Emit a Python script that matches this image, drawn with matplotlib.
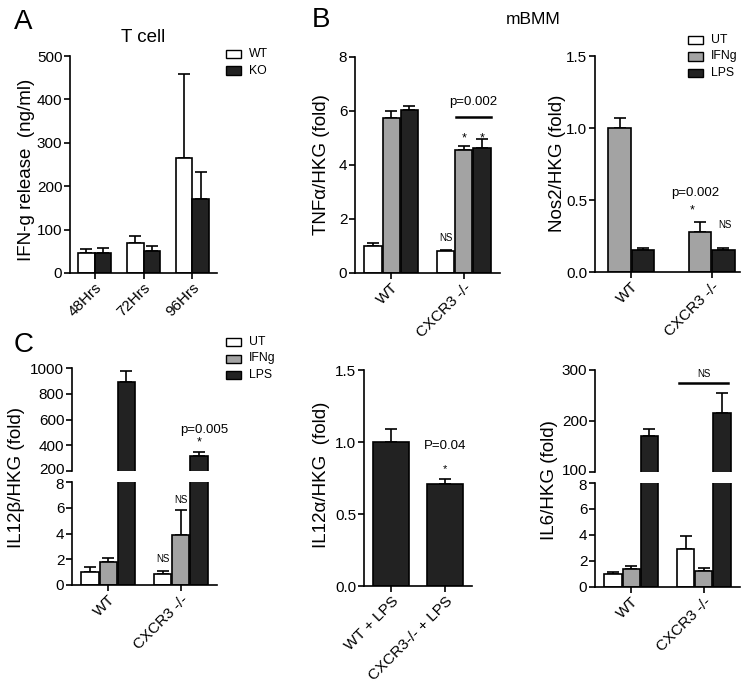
import matplotlib
matplotlib.use("Agg")
import matplotlib.pyplot as plt
from matplotlib.patches import Rectangle
from matplotlib.transforms import ScaledTranslation
import numpy as np

plt.rcParams['font.family'] = ['Liberation Sans', 'DejaVu Sans']

# ---------------- data ----------------
# Panel A: T cell IFN-g release
a_times = ["48Hrs", "72Hrs", "96Hrs"]
a_wt = [46, 68, 264]
a_wt_err = [9, 17, 194]
a_ko = [47, 51, 170]
a_ko_err = [10, 11, 62]

genotypes = ["WT", "CXCR3 -/-"]

# Panel B1: TNFa/HKG
tnf_ut = [1.0, 0.80]
tnf_ut_err = [0.10, 0.06]
tnf_ifng = [5.75, 4.55]
tnf_ifng_err = [0.25, 0.15]
tnf_lps = [6.02, 4.62]
tnf_lps_err = [0.15, 0.33]

# Panel B2: Nos2/HKG
nos_ifng = [1.0, 0.28]
nos_ifng_err = [0.07, 0.065]
nos_lps = [0.15, 0.155]
nos_lps_err = [0.015, 0.010]

# Panel C1: IL12b/HKG
il12b_ut = [1.0, 0.85]
il12b_ut_err = [0.40, 0.20]
il12b_ifng = [1.75, 3.9]
il12b_ifng_err = [0.35, 1.95]
il12b_lps = [888, 315]
il12b_lps_err = [90, 34]

# Panel C2: IL12a/HKG
il12a_labels = ["WT + LPS", "CXCR3-/- + LPS"]
il12a_vals = [1.0, 0.71]
il12a_err = [0.09, 0.035]

# Panel C3: IL6/HKG
il6_ut = [1.0, 2.9]
il6_ut_err = [0.15, 1.0]
il6_ifng = [1.35, 1.25]
il6_ifng_err = [0.25, 0.25]
il6_lps = [170, 215]
il6_lps_err = [15, 40]

# ---------------- style ----------------
W, H = 751, 688
WHITE = "#ffffff"
GRAY = "#a3a3a3"
DARK = "#222222"
LW = 1.2
TICKFS = 11
LABFS = 13.5

fig = plt.figure(figsize=(W / 100, H / 100), dpi=100)


def px_axes(x0, y0, x1, y1):
    return fig.add_axes([x0 / W, 1 - y1 / H, (x1 - x0) / W, (y1 - y0) / H])


def style(ax, bottom=True):
    for s in ["top", "right"]:
        ax.spines[s].set_visible(False)
    for s in ["left", "bottom"]:
        ax.spines[s].set_linewidth(LW)
    ax.tick_params(direction="out", length=4, width=LW, labelsize=TICKFS, pad=1.5)
    if not bottom:
        ax.spines["bottom"].set_visible(False)
        ax.tick_params(axis="x", bottom=False, labelbottom=False)


def bars(ax, x, vals, errs, color, width):
    ax.bar(x, vals, width=width, color=color, edgecolor="black", linewidth=LW, zorder=2)
    ax.errorbar(x, vals, yerr=[np.zeros(len(vals)), errs], fmt="none", ecolor="black",
                elinewidth=LW, capsize=4, capthick=LW, zorder=1)


def xlabels(ax, labels):
    ax.set_xticks(range(len(labels)))
    ax.set_xticklabels(labels, rotation=45, ha="right", rotation_mode="anchor")


def ylabel(x, y, text):
    fig.text(x / W, 1 - y / H, text, rotation=90, ha="center", va="center", fontsize=LABFS)


def legend_box(x, y, labels, colors):
    for i, (lab, c) in enumerate(zip(labels, colors)):
        yy = y + i * 16.5
        fig.add_artist(Rectangle((x / W, 1 - (yy + 4) / H), 15 / W, 8 / H,
                                 facecolor=c, edgecolor="black", linewidth=1.0,
                                 transform=fig.transFigure))
        fig.text((x + 23) / W, 1 - yy / H, lab, fontsize=8.8, ha="left", va="center")


def separate_break_labels(axu, axl):
    up = ScaledTranslation(0, 1.6 / 72, fig.dpi_scale_trans)
    down = ScaledTranslation(0, -1.2 / 72, fig.dpi_scale_trans)
    lu = axu.get_yticklabels()[0]
    lu.set_transform(lu.get_transform() + up)
    ll = axl.get_yticklabels()[-1]
    ll.set_transform(ll.get_transform() + down)


# ---------------- Panel A ----------------
ax = px_axes(70, 56, 217, 273)
xa = np.arange(len(a_times))
bars(ax, xa - 0.17, a_wt, a_wt_err, WHITE, 0.34)
bars(ax, xa + 0.17, a_ko, a_ko_err, DARK, 0.34)
ax.set_xlim(-0.5, 2.5)
ax.set_ylim(0, 500)
ax.set_yticks([0, 100, 200, 300, 400, 500])
style(ax)
xlabels(ax, a_times)
ylabel(27, 170, "IFN-g release  (ng/ml)")
fig.text(143 / W, 1 - 37 / H, "T cell", fontsize=13.5, ha="center", va="center")
legend_box(226, 54, ["WT", "KO"], [WHITE, DARK])
fig.text(14 / W, 1 - 22 / H, "A", fontsize=20, ha="left", va="center")

# ---------------- Panel B1 ----------------
ax = px_axes(355, 57, 500, 273)
xg = np.arange(2)
bars(ax, xg - 0.25, tnf_ut, tnf_ut_err, WHITE, 0.24)
bars(ax, xg, tnf_ifng, tnf_ifng_err, GRAY, 0.24)
bars(ax, xg + 0.25, tnf_lps, tnf_lps_err, DARK, 0.24)
ax.set_xlim(-0.5, 1.5)
ax.set_ylim(0, 8)
ax.set_yticks([0, 2, 4, 6, 8])
style(ax)
xlabels(ax, genotypes)
ax.text(0.75, 1.3, "NS", fontsize=7, ha="center", va="center")
ax.text(1.0, 5.0, "*", fontsize=9, ha="center", va="center")
ax.text(1.25, 5.0, "*", fontsize=9, ha="center", va="center")
ax.plot([0.89, 1.375], [5.78, 5.78], color="black", lw=1.8, clip_on=False)
ax.text(1.13, 6.33, "p=0.002", fontsize=9.5, ha="center", va="center")
ylabel(322, 165, "TNFα/HKG (fold)")
fig.text(312 / W, 1 - 20 / H, "B", fontsize=20, ha="left", va="center")
fig.text(533 / W, 1 - 20 / H, "mBMM", fontsize=12.5, ha="center", va="center")

# ---------------- Panel B2 ----------------
ax = px_axes(595, 56, 740, 272)
bars(ax, xg - 0.145, nos_ifng, nos_ifng_err, GRAY, 0.28)
bars(ax, xg + 0.145, nos_lps, nos_lps_err, DARK, 0.28)
ax.set_xlim(-0.45, 1.35)
ax.set_ylim(0, 1.5)
ax.set_yticks([0.0, 0.5, 1.0, 1.5])
ax.set_yticklabels(["0.0", "0.5", "1.0", "1.5"])
style(ax)
xlabels(ax, genotypes)
ax.text(0.8, 0.55, "p=0.002", fontsize=9.5, ha="center", va="center")
ax.text(0.76, 0.43, "*", fontsize=9, ha="center", va="center")
ax.text(1.16, 0.325, "NS", fontsize=7, ha="center", va="center")
ylabel(557, 163, "Nos2/HKG (fold)")
legend_box(688, 40, ["UT", "IFNg", "LPS"], [WHITE, GRAY, DARK])

# ---------------- Panel C1 (broken axis) ----------------
axu = px_axes(72, 368, 217, 471)
axl = px_axes(72, 482, 217, 585)
for a in (axu, axl):
    bars(a, xg - 0.25, il12b_ut, il12b_ut_err, WHITE, 0.24)
    bars(a, xg, il12b_ifng, il12b_ifng_err, GRAY, 0.24)
    bars(a, xg + 0.25, il12b_lps, il12b_lps_err, DARK, 0.24)
    a.set_xlim(-0.5, 1.5)
axu.set_ylim(200, 1000)
axu.set_yticks([200, 400, 600, 800, 1000])
axl.set_ylim(0, 8)
axl.set_yticks([0, 2, 4, 6, 8])
style(axu, bottom=False)
style(axl)
separate_break_labels(axu, axl)
xlabels(axl, genotypes)
axl.text(0.75, 2.05, "NS", fontsize=7, ha="center", va="center")
axl.text(1.0, 6.6, "NS", fontsize=7, ha="center", va="center")
axu.text(1.32, 522, "p=0.005", fontsize=9.5, ha="center", va="center")
axu.text(1.25, 422, "*", fontsize=9, ha="center", va="center")
ylabel(17, 477, "IL12β/HKG (fold)")
legend_box(226, 342, ["UT", "IFNg", "LPS"], [WHITE, GRAY, DARK])
fig.text(14 / W, 1 - 345 / H, "C", fontsize=20, ha="left", va="center")

# ---------------- Panel C2 ----------------
ax = px_axes(364, 370, 472, 586)
bars(ax, xg, il12a_vals, il12a_err, DARK, 0.67)
ax.set_xlim(-0.5, 1.5)
ax.set_ylim(0, 1.5)
ax.set_yticks([0.0, 0.5, 1.0, 1.5])
ax.set_yticklabels(["0.0", "0.5", "1.0", "1.5"])
style(ax)
xlabels(ax, il12a_labels)
ax.text(1.0, 0.97, "P=0.04", fontsize=9.5, ha="center", va="center")
ax.text(1.0, 0.81, "*", fontsize=8, ha="center", va="center")
ylabel(322, 475, "IL12α/HKG  (fold)")

# ---------------- Panel C3 (broken axis) ----------------
axu = px_axes(595, 370, 740, 472)
axl = px_axes(595, 483, 740, 587)
for a in (axu, axl):
    bars(a, xg - 0.25, il6_ut, il6_ut_err, WHITE, 0.24)
    bars(a, xg, il6_ifng, il6_ifng_err, GRAY, 0.24)
    bars(a, xg + 0.25, il6_lps, il6_lps_err, DARK, 0.24)
    a.set_xlim(-0.5, 1.5)
axu.set_ylim(100, 300)
axu.set_yticks([100, 200, 300])
axl.set_ylim(0, 8)
axl.set_yticks([0, 2, 4, 6, 8])
style(axu, bottom=False)
style(axl)
separate_break_labels(axu, axl)
xlabels(axl, genotypes)
axu.plot([0.66, 1.33], [274, 274], color="black", lw=1.8, clip_on=False)
axu.text(1.0, 293, "NS", fontsize=7, ha="center", va="center")
ylabel(549, 480, "IL6/HKG (fold)")

fig.savefig("out.png", dpi=100)
